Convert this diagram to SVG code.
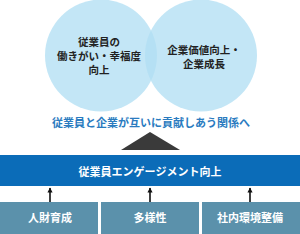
<svg xmlns="http://www.w3.org/2000/svg" width="300" height="234" viewBox="0 0 300 234">
<style>
.t{font-family:"Noto Sans CJK JP","Noto Sans",sans-serif;font-weight:bold;text-anchor:middle}
.dk{fill:#222;font-size:10.5px}
.wh{fill:#fff;font-size:11px}
.circ{fill:#b1dff3;fill-opacity:0.77}
.box{fill:#5b91ab}
.conn{stroke:#111;stroke-width:1.6;fill:none}
</style>
<defs>
<marker id="ah" viewBox="0 0 10 10" refX="9" refY="5" markerWidth="3.2" markerHeight="3.2" orient="auto">
<path d="M0,0 L10,5 L0,10 Z" fill="#111"/>
</marker>
</defs>
<rect width="300" height="234" fill="#fff"/>
<g id="circle-employee">
<circle class="circ" cx="101" cy="55.5" r="56"/>
<text class="t dk" x="99" y="45.5">従業員の</text>
<text class="t dk" x="99" y="59.5">働きがい・幸福度</text>
<text class="t dk" x="99" y="74">向上</text>
</g>
<g id="circle-company">
<circle class="circ" cx="201" cy="55.5" r="56"/>
<text class="t dk" x="204" y="53.5">企業価値向上・</text>
<text class="t dk" x="204" y="67.5">企業成長</text>
</g>
<g id="caption">
<text class="t" x="151" y="127" style="fill:#2a7bbf;font-size:11px">従業員と企業が互いに貢献しあう関係へ</text>
</g>
<g id="triangle">
<polygon points="150,132 121,150 180,150" fill="#3a3a3a"/>
</g>
<g id="engagement">
<rect x="0" y="155" width="300" height="31" fill="#0b6cb8"/>
<text class="t wh" x="150" y="176">従業員エンゲージメント向上</text>
</g>
<g id="connectors">
<line class="conn" x1="50" y1="202" x2="50" y2="188" marker-end="url(#ah)"/>
<line class="conn" x1="150" y1="202" x2="150" y2="188" marker-end="url(#ah)"/>
<line class="conn" x1="250" y1="202" x2="250" y2="188" marker-end="url(#ah)"/>
</g>
<g id="box-talent">
<rect class="box" x="0" y="202" width="98" height="32"/>
<text class="t wh" x="50" y="222">人財育成</text>
</g>
<g id="box-diversity">
<rect class="box" x="101" y="202" width="98" height="32"/>
<text class="t wh" x="150" y="222">多様性</text>
</g>
<g id="box-environment">
<rect class="box" x="202" y="202" width="98" height="32"/>
<text class="t wh" x="250" y="222">社内環境整備</text>
</g>
</svg>
